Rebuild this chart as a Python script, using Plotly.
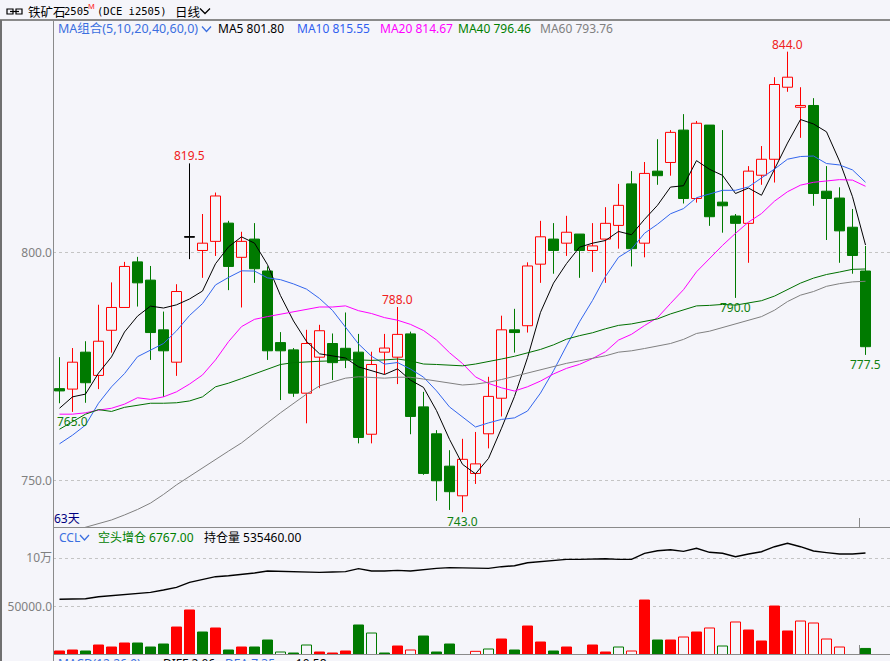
import plotly.graph_objects as go

W, H = 890, 661
BG = "#f5f5fa"
FONT = "Noto Sans, Noto Sans CJK SC, sans-serif"
CJK = "Noto Sans CJK SC, sans-serif"
MONO = "DejaVu Sans Mono, monospace"

RED = "#ff0000"
GREEN = "#007a00"

# ---------------- data ----------------
opens = [770.1, 770.0, 778.1, 773.0, 782.9, 787.9, 797.9, 793.9, 783.0, 775.9,
         803.3, 800.4, 802.4, 806.4, 798.9, 802.9, 795.9, 780.2, 778.6, 769.1,
         777.0, 780.0, 778.95, 778.1, 760.1, 778.1, 777.0, 782.1, 766.1, 760.2,
         753.1, 746.6, 751.5, 760.2, 768.0, 783.0, 783.9, 797.4, 802.9, 802.0,
         804.0, 800.4, 802.9, 805.9, 815.0, 802.0, 817.8, 819.7, 826.8, 811.8,
         827.9, 811.0, 807.96, 806.35, 816.9, 820.4, 836.2, 831.8, 832.2, 813.4,
         811.9, 805.5, 795.9]
highs = [777.0, 779.0, 780.5, 788.5, 793.4, 797.9, 799.0, 797.0, 787.0, 793.0,
         819.5, 808.4, 813.1, 806.9, 804.5, 806.4, 796.9, 782.5, 779.0, 783.0,
         784.1, 782.2, 786.8, 782.1, 778.2, 782.1, 788.0, 782.6, 769.4, 761.0,
         756.6, 759.1, 760.6, 772.7, 786.1, 787.6, 797.8, 806.9, 806.4, 808.0,
         804.0, 806.4, 809.9, 815.0, 817.8, 819.8, 824.8, 826.8, 830.3, 828.8,
         827.9, 826.8, 808.4, 818.9, 823.3, 838.4, 844.0, 836.2, 833.8, 818.9,
         814.25, 809.5, 801.4]
lows = [766.9, 765.0, 767.0, 770.0, 778.0, 787.9, 788.1, 776.4, 768.3, 772.9,
        798.5, 794.4, 799.2, 791.7, 787.9, 793.3, 776.4, 767.6, 768.3, 762.5,
        770.2, 772.0, 774.6, 758.1, 758.1, 773.3, 771.1, 760.1, 751.2, 745.5,
        743.5, 743.0, 749.2, 757.0, 764.0, 778.0, 782.4, 793.3, 795.3, 799.2,
        794.4, 795.7, 793.3, 800.8, 796.9, 798.9, 814.8, 816.8, 810.7, 810.9,
        805.8, 804.3, 790.0, 797.7, 814.8, 815.3, 835.2, 825.1, 810.2, 802.7,
        797.7, 795.3, 777.5]
closes = [769.6, 775.9, 771.4, 780.5, 787.9, 796.9, 793.3, 782.4, 778.4, 791.4,
          803.3, 802.0, 812.35, 796.9, 802.4, 796.4, 778.4, 778.4, 769.1, 780.0,
          782.8, 775.8, 776.4, 759.4, 775.4, 779.0, 782.0, 764.0, 751.5, 749.9,
          747.5, 754.6, 753.6, 768.4, 783.0, 782.4, 797.0, 803.4, 800.4, 804.4,
          800.4, 801.4, 806.35, 810.3, 800.8, 817.3, 816.8, 826.3, 811.8, 828.3,
          807.8, 810.2, 806.35, 817.8, 820.4, 836.8, 838.4, 832.2, 812.9, 811.8,
          804.7, 799.3, 779.3]

# moving-average values before enough closes are on screen
ma5_lead = [765.8, 768.3, 768.9, 773.5]
ma10_lead = [758.0, 759.9, 762.1, 766.9, 770.5, 773.4, 777.1, 778.6, 780.0]
ma20_lead = [764.5, 764.5, 764.8, 765.4, 765.8, 766.7, 768.1, 767.75, 768.3, 769.4,
             771.1, 773.1, 776.4, 780.4, 783.7, 785.3, 785.9, 786.4, 787.0]
ma40_lead = [761.2, 762.9, 764.5, 765.5, 765.1, 766.0, 766.5, 766.9, 766.9, 767.0,
             767.4, 768.3, 770.5, 771.3, 772.3, 773.3, 774.4, 775.4, 775.8, 776.0,
             776.1, 776.2, 776.4, 776.4, 776.3, 776.4, 776.6, 776.2, 775.5, 775.4,
             775.2, 775.1, 775.5, 776.0, 776.6, 777.2, 778.0, 778.7, 779.7]
ma60_lead = [738.1, 738.9, 739.8, 740.5, 741.3, 742.4, 743.6, 745.0, 746.9, 749.0,
             750.9, 752.7, 754.6, 756.4, 758.2, 760.3, 762.6, 764.8, 766.9, 768.9,
             770.7, 771.6, 772.4, 772.7, 772.6, 772.4, 772.6, 772.6, 772.2, 771.8,
             771.3, 770.9, 771.1, 771.5, 772.1, 772.8, 773.5, 774.3, 774.9, 775.65,
             776.2, 776.75, 777.3, 778.1, 778.4, 778.9, 779.5, 780.0, 780.9, 782.2,
             782.7, 783.5, 784.4, 785.15, 785.9, 787.3, 789.2, 790.6, 791.4]

# open-interest change bars and their kind
oi_change = [4130, 5165, 4130, 10330, 8264, 12400, 12400, 8264, 11360, 28900,
             46500, 23760, 27900, 5165, 8264, 8264, 15500, 3100, 2066, 10330,
             3100, 2066, 4130, 31000, 22700, 2066, 9300, 5165, 19630, 3100,
             11360, 0, 3790, 6200, 16530, 5165, 29960, 13430, 4130, 8264,
             0, 10330, 3100, 8264, 4130, 56800, 15500, 15500, 18600, 23760,
             27900, 9300, 34100, 25800, 14460, 50600, 24800, 35100, 33060, 16530,
             8264, 0, 6767]
oi_kind = ["多头增仓", "多头增仓", "空头增仓", "多头增仓", "多头增仓", "多头增仓", "空头增仓", "空头增仓", "空头增仓", "多头增仓",
           "多头增仓", "空头增仓", "多头增仓", "空头增仓", "多头增仓", "空头增仓", "空头增仓", "多头减仓", "空头增仓", "多头减仓",
           "多头增仓", "多头增仓", "多头增仓", "空头增仓", "多头减仓", "空头增仓", "多头增仓", "空头减仓", "空头增仓", "空头增仓",
           "空头增仓", "空头增仓", "空头减仓", "多头减仓", "多头增仓", "空头增仓", "多头增仓", "多头增仓", "空头增仓", "多头增仓",
           "多头增仓", "多头增仓", "多头增仓", "多头减仓", "空头减仓", "多头增仓", "空头增仓", "多头增仓", "空头减仓", "多头增仓",
           "空头减仓", "多头减仓", "空头减仓", "多头增仓", "多头增仓", "多头增仓", "多头增仓", "空头减仓", "空头减仓", "空头减仓",
           "空头减仓", "空头减仓", "空头增仓"]
# open-interest line, read against the panel's own axis
oi_line = [57540, 57850, 58160, 60240, 61270, 62300, 63340, 64720, 67150, 69900,
           75080, 78180, 80900, 81920, 82950, 84700, 86770, 86420, 85740, 85050,
           85390, 85740, 86080, 89180, 86770, 86770, 87460, 86770, 88490, 89520,
           90300, 90200, 89520, 89520, 91240, 92250, 95350, 96730, 97420, 98800,
           98800, 99490, 99490, 98800, 98800, 105060, 107750, 108780, 107090, 110200,
           106090, 105060, 101550, 104330, 106710, 111870, 115390, 111870, 107430, 105750,
           104330, 104330, 105370]

# extreme-price labels: (candle index, which)
hl_marks = [(10, "high"), (26, "high"), (56, "high"), (1, "low"), (31, "low"), (52, "low"), (62, "low")]

ma_periods = [5, 10, 20, 40, 60]
ma_header_values = [801.80, 815.55, 814.67, 796.46, 793.76]
price_ticks = [750, 800]
oi_ticks = [50000, 100000]
oi_tick_text = ["50000.0", "10万"]
n_days = len(closes)

# ---------------- helpers ----------------
def px(x):
    return x / W


def py(y):
    return 1 - y / H


def moving_average(period, lead):
    out = list(lead)
    for i in range(period - 1, n_days):
        out.append(sum(closes[i - period + 1:i + 1]) / period)
    return out


idx = list(range(n_days))
fig = go.Figure()

# wicks (split around the body so hollow bodies stay empty)
wick = {"up": ([], []), "down": ([], []), "flat": ([], [])}
for i in idx:
    o, h, l, c = opens[i], highs[i], lows[i], closes[i]
    key = "up" if c > o else ("down" if c < o else "flat")
    xs, ys = wick[key]
    top, bot = max(o, c), min(o, c)
    xs += [i, i, None, i, i, None]
    ys += [h, top, None, bot, l, None]
wick_colors = {"up": RED, "down": GREEN, "flat": "#000000"}
for key, (xs, ys) in wick.items():
    fig.add_trace(go.Scatter(x=xs, y=ys, mode="lines", line=dict(color=wick_colors[key], width=1),
                             hoverinfo="skip", showlegend=False, xaxis="x", yaxis="y"))

# bodies
body_style = {"up": (BG, RED), "down": (GREEN, GREEN), "flat": ("#000000", "#000000")}
for key, (fillc, linec) in body_style.items():
    sel = [i for i in idx if (closes[i] > opens[i] if key == "up" else
                              (closes[i] < opens[i] if key == "down" else closes[i] == opens[i]))]
    fig.add_trace(go.Bar(
        x=sel,
        y=[max(abs(closes[i] - opens[i]), 0.15) for i in sel],
        base=[min(opens[i], closes[i]) for i in sel],
        width=0.77,
        marker=dict(color=fillc, line=dict(color=linec, width=1)),
        hoverinfo="skip", showlegend=False, xaxis="x", yaxis="y"))

# moving averages
ma_colors = ["#000000", "#3366ee", "#ff00ff", "#007000", "#808080"]
ma_leads = [ma5_lead, ma10_lead, ma20_lead, ma40_lead, ma60_lead]
for period, lead, col in zip(ma_periods, ma_leads, ma_colors):
    fig.add_trace(go.Scatter(x=idx, y=moving_average(period, lead), mode="lines",
                             line=dict(color=col, width=1), hoverinfo="skip",
                             showlegend=False, xaxis="x", yaxis="y"))

# open-interest change bars
kind_style = {"多头增仓": (RED, RED), "空头减仓": (BG, RED),
              "空头增仓": (GREEN, GREEN), "多头减仓": (BG, GREEN)}
for kind, (fillc, linec) in kind_style.items():
    sel = [i for i in idx if oi_kind[i] == kind and oi_change[i] > 0]
    fig.add_trace(go.Bar(x=sel, y=[oi_change[i] for i in sel], width=0.77,
                         marker=dict(color=fillc, line=dict(color=linec, width=1)),
                         hoverinfo="skip", showlegend=False, xaxis="x2", yaxis="y2"))

fig.add_trace(go.Scatter(x=idx, y=oi_line, mode="lines", line=dict(color="#000000", width=1.4),
                         hoverinfo="skip", showlegend=False, xaxis="x2", yaxis="y2"))

# ---------------- annotations ----------------
ann = []


def text(x, y, s, color, size=12, family=FONT, anchor="left", yanchor="middle"):
    ann.append(dict(x=px(x), y=py(y), xref="paper", yref="paper", text=s, showarrow=False,
                    xanchor=anchor, yanchor=yanchor, borderpad=0,
                    font=dict(size=size, color=color, family=family)))


for i, which in hl_marks:
    if which == "high":
        ann.append(dict(x=i, y=highs[i], xref="x", yref="y", text=f"{highs[i]:.1f}", showarrow=False,
                        xanchor="center", yanchor="bottom", yshift=-2, borderpad=0,
                        font=dict(size=12, color="#f02020", family=FONT)))
    else:
        ann.append(dict(x=i, y=lows[i], xref="x", yref="y", text=f"{lows[i]:.1f}", showarrow=False,
                        xanchor="center", yanchor="top", yshift=0, borderpad=0,
                        font=dict(size=12, color="#108010", family=FONT)))

# header
text(27, 11, "铁矿石", "#000000", 12.5, CJK)
text(63, 11.5, "2505", "#000000", 10.5, MONO)
text(87, 6, "M", "#ff2020", 7.5, FONT)
text(96, 11.5, "(DCE i2505)", "#000000", 10.5, MONO)
text(174, 11, "日线", "#000000", 12.5, CJK)

# MA header
text(57, 28.5, "MA组合(5,10,20,40,60,0)", "#3b6fe0", 12.5, FONT)
text(217, 28.5, f"MA5 {ma_header_values[0]:.2f}", "#000000", 12, FONT)
text(296, 28.5, f"MA10 {ma_header_values[1]:.2f}", "#3060f0", 12, FONT)
text(379, 28.5, f"MA20 {ma_header_values[2]:.2f}", "#ff00ff", 12, FONT)
text(457, 28.5, f"MA40 {ma_header_values[3]:.2f}", "#008000", 12, FONT)
text(539, 28.5, f"MA60 {ma_header_values[4]:.2f}", "#808080", 12, FONT)

text(53, 518, "63天", "#000080", 12, FONT)

# sub panel header
text(58, 537, "CCL", "#3b6fe0", 12, FONT)
text(97, 537, f"空头增仓 {oi_change[-1]:.2f}", "#008000", 12, FONT)
text(203, 537, "持仓量 535460.00", "#000000", 12, FONT)

# MACD header (cut off at the bottom edge, as in the source)
text(57, 654, "MACD(12,26,9)", "#3b6fe0", 12, FONT, yanchor="top")
text(162, 654, "DIFF 2.06", "#000000", 12, FONT, yanchor="top")
text(224, 654, "DEA 7.35", "#3b6fe0", 12, FONT, yanchor="top")
text(291, 654, "-10.58", "#000000", 12, FONT, yanchor="top")

# ---------------- shapes ----------------
shapes = []


def line(x0, y0, x1, y1, color="#808080", width=1):
    shapes.append(dict(type="line", xref="paper", yref="paper", x0=px(x0), y0=py(y0), x1=px(x1), y1=py(y1),
                       line=dict(color=color, width=width)))


def chevron(x0, y0, x1, y1, color):
    xm = (x0 + x1) / 2
    shapes.append(dict(type="path", xref="paper", yref="paper",
                       path=f"M {px(x0)} {py(y0)} L {px(xm)} {py(y1)} L {px(x1)} {py(y0)}",
                       line=dict(color=color, width=1.3)))


line(0, 20, W, 20, "#8a8a8a", 2)
line(1, 20, 1, H, "#707070", 2)
line(53.5, 20, 53.5, H, "#8a8a8a", 1)
line(53, 527.5, W, 527.5, "#8a8a8a", 1)
line(53, 654.5, W, 654.5, "#8a8a8a", 1)
line(859.5, 518, 859.5, 527, "#8a8a8a", 1)
line(859.5, 645, 859.5, 654, "#8a8a8a", 1)

chevron(200, 8.5, 210, 13.5, "#000000")
chevron(202, 26.5, 211, 31.5, "#3b6fe0")
chevron(80, 535, 89, 540, "#3b6fe0")

# link icon in header
for x0, x1 in [(7, 13), (16, 22)]:
    shapes.append(dict(type="rect", xref="paper", yref="paper", x0=px(x0), x1=px(x1),
                       y0=py(14), y1=py(9), line=dict(color="#000000", width=1.2)))
line(10, 11.5, 19, 11.5, "#000000", 1.2)

# ---------------- layout ----------------
x_range = [-(59.5 - 53) / 13, (W - 59.5) / 13]
v_per_px = 50000 / 48.4

fig.update_layout(
    width=W, height=H, margin=dict(l=0, r=0, t=0, b=0),
    paper_bgcolor=BG, plot_bgcolor=BG, barmode="overlay", showlegend=False,
    annotations=ann, shapes=shapes,
    xaxis=dict(domain=[px(53), 1], range=x_range, showgrid=False, zeroline=False,
               showticklabels=False, ticks="", anchor="y", fixedrange=True),
    yaxis=dict(domain=[py(527), py(20)], range=[800 - (527 - 252.3) / 4.56, 800 + (252.3 - 20) / 4.56],
               tickvals=price_ticks, ticktext=[f"{v:.1f}" for v in price_ticks],
               showgrid=True, gridcolor="#c4c4c4", griddash="dot", gridwidth=1,
               zeroline=False, ticks="", automargin=False,
               tickfont=dict(size=12, color="#808080", family=FONT), anchor="x"),
    xaxis2=dict(domain=[px(53), 1], range=x_range, showgrid=False, zeroline=False,
                showticklabels=False, ticks="", anchor="y2", fixedrange=True),
    yaxis2=dict(domain=[py(654), py(527)], range=[(655 - 654) * v_per_px, (655 - 527) * v_per_px],
                tickvals=oi_ticks, ticktext=oi_tick_text,
                showgrid=True, gridcolor="#c4c4c4", griddash="dot", gridwidth=1,
                zeroline=False, ticks="", automargin=False,
                tickfont=dict(size=12, color="#808080", family=FONT), anchor="x2"),
)

fig.write_html("out.html", config={"displayModeBar": False},
               post_script="document.body.style.margin='0';document.body.style.overflow='hidden';")
